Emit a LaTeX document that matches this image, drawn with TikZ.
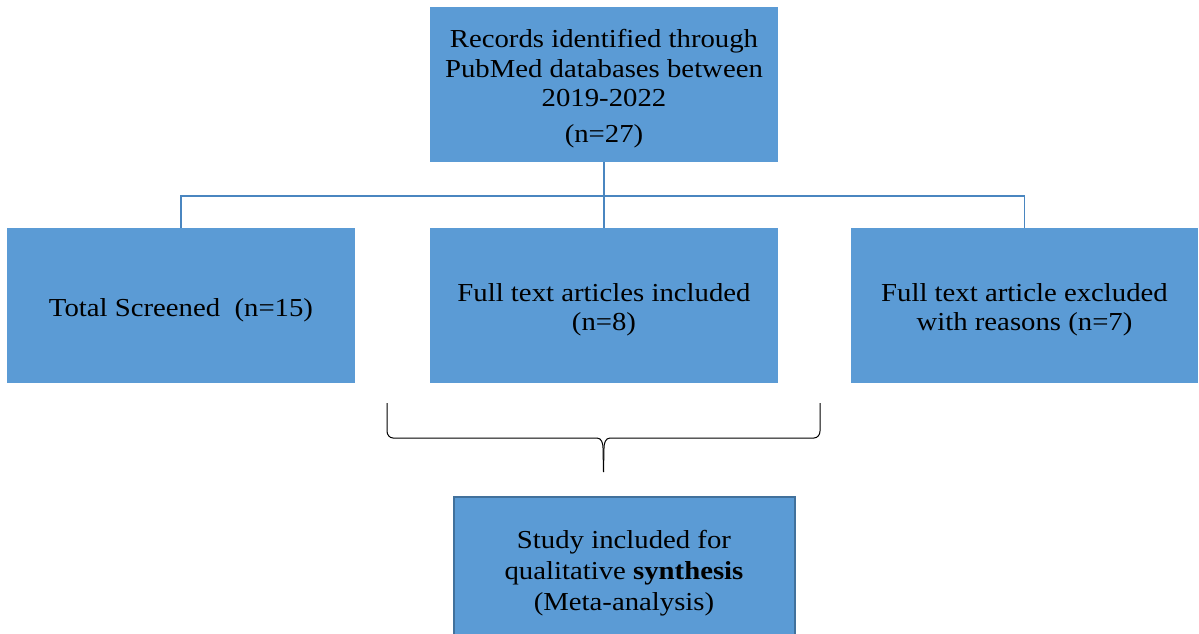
\documentclass[tikz,border=0pt]{standalone}
\usepackage{fontspec}
\setmainfont[FakeStretch=1.11]{Liberation Serif}
\usetikzlibrary{positioning}
\definecolor{boxfill}{HTML}{5B9BD5}
\definecolor{boxline}{HTML}{41719C}
\definecolor{linkcol}{HTML}{4A86C0}
\newcommand{\lowerby}{\rule{0pt}{27bp}}
\tikzset{
  flowbox/.style={rectangle,fill=boxfill,draw=none,minimum width=348bp,minimum height=155bp,
    inner sep=0pt,align=center,font=\fontsize{26}{29.5}\selectfont},
  link/.style={draw=linkcol,line width=1.3bp},
  bracket/.style={draw=black,line width=1bp}
}
\begin{document}
\begin{tikzpicture}[x=1bp,y=1bp]
  \useasboundingbox (0,0) rectangle (1199,-634);
%%
  % Node: records
  \node[flowbox] (records) at (604,-84.5) {\lowerby Records identified through\\PubMed databases between\\2019-2022\\[7bp](n=27)};
  % Node: screened
  \node[flowbox] (screened) at (181,-305.5) {\lowerby Total Screened~ (n=15)};
  % Node: included
  \node[flowbox] (included) at (604,-305.5) {\lowerby Full text articles included\\(n=8)};
  % Node: excluded
  \node[flowbox,minimum width=347bp] (excluded) at (1024.5,-305.5) {\lowerby Full text article excluded\\with reasons (n=7)};
  % Node: synthesis
  \node[flowbox,draw=boxline,line width=2bp,minimum width=341bp,minimum height=140bp,
    font=\fontsize{26}{31}\selectfont] (synthesis) at (624,-567)
    {\rule{0pt}{30bp}Study included for\\qualitative \textbf{synthesis}\\(Meta-analysis)};
%
  % Edge: records -> included, screened, excluded
  \coordinate (bus) at (604,-196);
  \draw[link] (records.south) -- (included.north);
  \draw[link] (screened.north) |- (bus) -| (excluded.north);
  % Edge: bracket under screened and included
  \coordinate (bl) at (387,-403);
  \coordinate (br) at (820,-403);
  \coordinate (tip) at (603.5,-472);
  \draw[bracket] (bl) -- ++(0,-28) to[out=-90,in=180] ++(6,-7) -- (597,-438)
    to[out=0,in=90] ++(6,-10) -- (tip);
  \draw[bracket] (br) -- ++(0,-28) to[out=-90,in=0] ++(-6,-7) -- (610,-438)
    to[out=180,in=90] ++(-6,-10) -- (tip);
%
\end{tikzpicture}
\end{document}
